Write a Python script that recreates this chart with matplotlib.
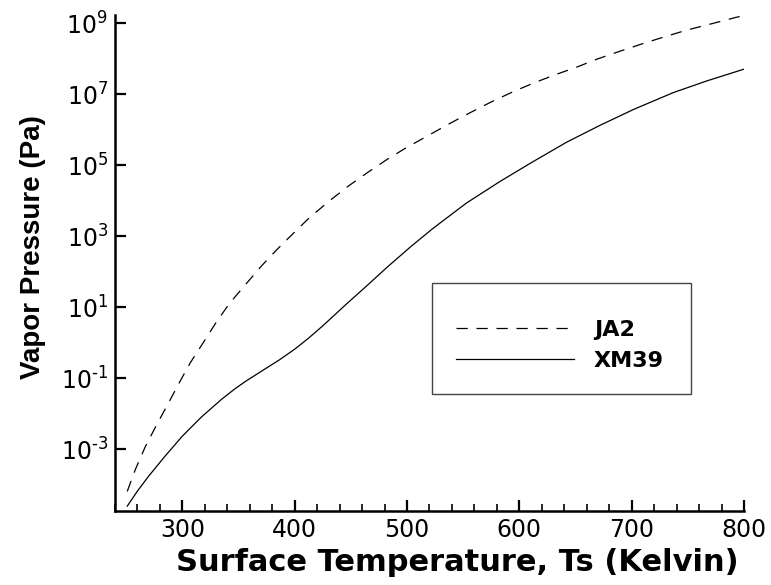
import matplotlib
matplotlib.use("Agg")
import matplotlib.pyplot as plt
from matplotlib.patches import Rectangle
from matplotlib.ticker import FixedLocator, FixedFormatter, MultipleLocator

plt.rcParams["font.family"] = ["DejaVu Sans"]
plt.rcParams["mathtext.fontset"] = "dejavusans"

# JA2 vapor pressure
ja2_temp = [251, 258, 267, 277, 286, 297, 307, 319, 330, 342, 356, 370, 384, 399,
            413, 431, 448, 465, 482, 499, 520, 537, 556, 574, 594, 612, 630, 652,
            669, 690, 709, 728, 749, 770, 793, 800]
ja2_pres = [6.5e-5, 2.6e-4, 1.17e-3, 4.8e-3, 1.6e-2, 7.2e-2, 0.27, 1.05, 3.7, 12.9,
            42.7, 141, 417, 1230, 3310, 1.0e4, 2.63e4, 6.3e4, 1.45e5, 3.09e5, 7.24e5,
            1.45e6, 3.02e6, 5.9e6, 1.17e7, 2.04e7, 3.39e7, 6.0e7, 9.8e7, 1.66e8,
            2.63e8, 4.07e8, 6.46e8, 9.55e8, 1.48e9, 1.66e9]

# XM39 vapor pressure
xm39_temp = [251, 260, 270, 285, 300, 317, 335, 347, 357, 372, 387, 400, 412, 425,
             446, 464, 482, 503, 523, 553, 583, 612, 642, 672, 702, 737, 767, 800]
xm39_pres = [2.5e-5, 6.6e-5, 1.74e-4, 6.6e-4, 2.34e-3, 8.1e-3, 2.57e-2, 5.1e-2,
             8.5e-2, 0.17, 0.34, 0.66, 1.32, 3.0, 12.3, 39.8, 132, 501, 1660,
             8.7e3, 3.55e4, 1.26e5, 4.47e5, 1.35e6, 3.8e6, 1.12e7, 2.4e7, 5.13e7]

y_ticks = [1e-3, 1e-1, 1e1, 1e3, 1e5, 1e7, 1e9]
y_tick_labels = ["$10^{\u20103}$", "$10^{\u20101}$", "$10^{1}$", "$10^{3}$",
                 "$10^{5}$", "$10^{7}$", "$10^{9}$"]

fig = plt.figure(figsize=(7.71, 5.85), dpi=100)
ax = fig.add_axes([0.149, 0.127, 0.816, 0.847])

ax.plot(ja2_temp, ja2_pres, color="black", lw=0.9, ls=(0, (9, 7)), label="JA2")
ax.plot(xm39_temp, xm39_pres, color="black", lw=0.9, label="XM39")

ax.set_yscale("log")
ax.set_xlim(240, 800)
ax.set_ylim(10 ** -4.73, 10 ** 9.23)

ax.yaxis.set_major_locator(FixedLocator(y_ticks))
ax.yaxis.set_major_formatter(FixedFormatter(y_tick_labels))
ax.yaxis.set_minor_locator(FixedLocator([]))
ax.xaxis.set_major_locator(MultipleLocator(100))
ax.xaxis.set_minor_locator(MultipleLocator(20))

for s in ["top", "right"]:
    ax.spines[s].set_visible(False)
for s in ["left", "bottom"]:
    ax.spines[s].set_linewidth(1.8)

ax.tick_params(which="major", direction="in", length=8, width=1.6, labelsize=17, pad=5)
ax.tick_params(which="minor", direction="in", length=5, width=1.2)

ax.set_xlabel("Surface Temperature, Ts (Kelvin)", fontsize=22, fontweight="bold")
ax.set_ylabel("Vapor Pressure (Pa)", fontsize=20, fontweight="bold",
              family=["Liberation Sans", "DejaVu Sans"])
ax.xaxis.set_label_coords(0.545, -0.075)
ax.yaxis.set_label_coords(-0.11, 0.532)

# legend box
ax.add_patch(Rectangle((0.5035, 0.2354), 0.4115, 0.2233, transform=ax.transAxes,
                       fill=False, ec="#444444", lw=1.0, zorder=3))
ax.legend(loc="center", bbox_to_anchor=(0.7075, 0.333), frameon=False,
          prop={"size": 16, "weight": "bold"}, handlelength=5.3,
          handletextpad=0.9, labelspacing=0.5, borderpad=0, borderaxespad=0)

fig.savefig("out.png", dpi=100)
